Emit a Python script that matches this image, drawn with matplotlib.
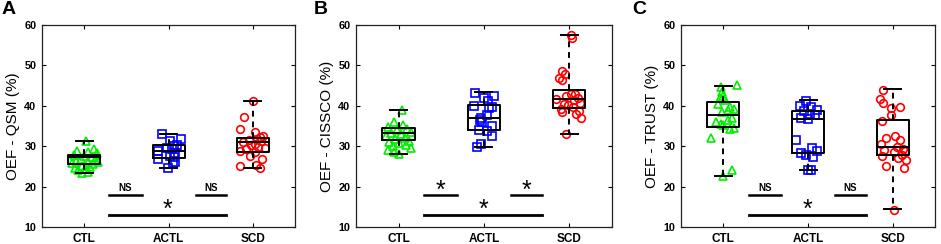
import matplotlib
matplotlib.use("Agg")
import matplotlib.pyplot as plt

plt.rcParams['font.family'] = ['Liberation Sans', 'DejaVu Sans']

groups = ["CTL", "ACTL", "SCD"]
panel_letters = ["A", "B", "C"]
ylabels = ["OEF - QSM (%)", "OEF - CISSCO (%)", "OEF - TRUST (%)"]
sig_labels = [["NS", "NS", "*"], ["*", "*", "*"], ["NS", "NS", "*"]]

# box stats per panel, per group: (whislo, q1, med, q3, whishi)
stats_A = [(23.4, 25.6, 27.3, 27.8, 31.3), (24.7, 27.0, 28.7, 30.3, 32.9), (24.7, 28.6, 31.1, 32.1, 41.3)]
stats_B = [(28.0, 31.5, 33.3, 34.6, 38.9), (29.9, 34.1, 36.9, 40.1, 43.3), (33.1, 39.5, 41.6, 43.9, 57.6)]
stats_C = [(22.7, 34.8, 37.7, 40.9, 44.9), (24.1, 28.2, 36.7, 38.8, 41.4), (14.4, 27.8, 29.9, 36.6, 44.1)]

# points: values and horizontal jitter offsets
A_ctl_y = [31.2, 29.3, 28.8, 28.5, 28.2, 27.8, 27.5, 27.2, 26.9, 26.6, 26.4, 26.1, 25.8, 25.5, 25.2, 24.9, 24.6, 24.3, 24.0, 23.7, 23.4, 26.0]
A_ctl_dx = [0.02, 0.12, -0.08, 0.05, 0.15, -0.12, 0.00, 0.09, -0.04, 0.13, -0.10, 0.04, -0.14, 0.10, -0.02, 0.07, -0.11, 0.01, -0.07, 0.05, -0.02, 0.16]
A_actl_y = [33.0, 31.7, 31.2, 30.3, 30.0, 29.6, 29.4, 28.8, 28.3, 27.5, 27.2, 26.8, 26.0, 25.8, 24.5]
A_actl_dx = [-0.08, 0.15, 0.02, 0.10, 0.06, -0.02, 0.04, -0.12, 0.08, 0.02, 0.07, -0.12, 0.08, 0.05, -0.01]
A_scd_y = [41.2, 37.1, 34.2, 33.5, 32.6, 32.2, 31.9, 31.5, 31.3, 31.0, 30.6, 30.2, 29.8, 29.5, 29.2, 28.8, 28.5, 27.6, 26.8, 25.4, 25.0, 24.7]
A_scd_dx = [0.00, -0.10, -0.15, 0.02, 0.12, 0.08, 0.05, -0.05, 0.10, -0.12, 0.03, -0.02, 0.06, 0.14, -0.08, -0.15, 0.02, -0.03, 0.11, 0.04, -0.15, 0.08]

B_ctl_y = [39.0, 36.0, 35.2, 34.8, 34.3, 33.9, 33.5, 33.2, 32.9, 32.5, 32.1, 31.8, 31.4, 31.0, 30.7, 30.4, 30.0, 29.5, 29.0, 28.5, 28.0]
B_ctl_dx = [0.04, -0.06, 0.05, -0.12, 0.10, -0.02, 0.14, -0.09, 0.03, -0.15, 0.08, -0.04, 0.12, -0.11, 0.00, 0.09, -0.07, 0.15, -0.12, -0.05, 0.00]
B_actl_y = [43.2, 42.5, 42.0, 41.3, 40.0, 39.6, 39.4, 37.6, 36.9, 36.5, 36.1, 35.0, 34.0, 33.8, 32.5, 30.5, 29.7]
B_actl_dx = [-0.10, 0.12, 0.00, 0.05, -0.12, 0.10, 0.06, 0.03, -0.03, -0.05, -0.02, 0.10, -0.06, 0.03, 0.10, -0.03, -0.08]
B_scd_y = [57.5, 56.8, 48.5, 47.8, 46.8, 46.3, 43.0, 42.8, 42.5, 42.0, 41.8, 41.5, 40.8, 40.5, 40.2, 39.8, 39.2, 38.8, 38.5, 38.0, 37.0, 33.0]
B_scd_dx = [0.02, 0.03, -0.08, -0.05, -0.12, -0.09, 0.07, 0.02, -0.04, 0.10, -0.15, 0.05, 0.13, -0.06, -0.02, 0.04, -0.10, 0.11, -0.08, 0.08, 0.14, -0.04]

C_ctl_y = [45.2, 44.6, 43.5, 42.5, 42.0, 41.5, 40.5, 39.8, 39.2, 38.9, 38.5, 37.0, 36.5, 36.0, 35.6, 35.2, 34.6, 34.2, 32.0, 24.0, 22.6]
C_ctl_dx = [0.16, -0.03, -0.02, 0.00, -0.04, 0.02, -0.06, 0.08, 0.12, 0.05, -0.02, 0.10, 0.06, -0.09, -0.03, 0.00, 0.12, 0.08, -0.15, 0.10, 0.00]
C_actl_y = [41.3, 40.0, 39.6, 39.0, 38.8, 38.0, 37.6, 37.0, 36.8, 31.6, 29.6, 28.9, 28.4, 27.8, 27.4, 24.2, 24.0]
C_actl_dx = [-0.02, -0.10, 0.04, 0.10, -0.05, 0.02, 0.08, -0.08, 0.00, -0.14, 0.05, 0.10, -0.08, -0.02, 0.06, 0.00, 0.04]
C_scd_y = [44.0, 41.7, 40.8, 39.8, 39.4, 37.6, 36.2, 32.5, 32.0, 31.5, 30.5, 29.8, 29.4, 29.0, 28.7, 28.5, 27.9, 27.5, 27.0, 26.5, 25.2, 24.5, 14.2]
C_scd_dx = [-0.12, -0.15, -0.12, 0.08, -0.02, -0.02, -0.13, 0.03, -0.08, 0.08, -0.14, 0.05, 0.12, -0.10, 0.15, 0.02, 0.11, -0.13, 0.06, 0.16, -0.08, 0.13, 0.01]

panels = [
    (stats_A, [(A_ctl_y, A_ctl_dx), (A_actl_y, A_actl_dx), (A_scd_y, A_scd_dx)]),
    (stats_B, [(B_ctl_y, B_ctl_dx), (B_actl_y, B_actl_dx), (B_scd_y, B_scd_dx)]),
    (stats_C, [(C_ctl_y, C_ctl_dx), (C_actl_y, C_actl_dx), (C_scd_y, C_scd_dx)]),
]

colors = ["#00ee00", "#0000ff", "#ff0000"]
markers = ["^", "s", "o"]

fig = plt.figure(figsize=(9.41, 2.44), dpi=100)
lefts = [0.0446, 0.3783, 0.7237]
widths = [0.269, 0.272, 0.270]
letter_x = [0.002, 0.333, 0.672]

for p, (stats, pts) in enumerate(panels):
    ax = fig.add_axes([lefts[p], 0.0697, widths[p], 0.828])
    positions = [1, 2, 3]
    for g in range(3):
        yv, dx = pts[g]
        xs = [positions[g] + d for d in dx]
        ax.plot(xs, yv, linestyle='none', marker=markers[g], markerfacecolor='none',
                markeredgecolor=colors[g], markersize=5.5, markeredgewidth=1.2, zorder=2)
    bstats = []
    for g in range(3):
        lo, q1, med, q3, hi = stats[g]
        bstats.append(dict(whislo=lo, q1=q1, med=med, q3=q3, whishi=hi, fliers=[], label=groups[g]))
    ax.bxp(bstats, positions=positions, widths=0.38, showfliers=False, patch_artist=False,
           boxprops=dict(color='black', linewidth=1.4),
           medianprops=dict(color='black', linewidth=1.4),
           whiskerprops=dict(color='black', linewidth=1.4, linestyle=(0, (3, 2.5))),
           capprops=dict(color='black', linewidth=1.4), capwidths=0.2, manage_ticks=False)
    ax.plot([1.3, 1.68], [17.8, 17.8], color='black', linewidth=1.8)
    ax.plot([2.32, 2.68], [17.8, 17.8], color='black', linewidth=1.8)
    ax.plot([1.3, 2.68], [12.9, 12.9], color='black', linewidth=2.0)
    s1, s2, s3 = sig_labels[p]
    for xc, lab in [(1.49, s1), (2.5, s2)]:
        if lab == "NS":
            ax.text(xc, 18.4, lab, ha='center', va='bottom', fontsize=7, fontweight='bold')
        else:
            ax.text(xc, 16.0, lab, ha='center', va='bottom', fontsize=18)
    ax.text(1.99, 11.3, s3, ha='center', va='bottom', fontsize=18)

    ax.set_xlim(0.5, 3.5)
    ax.set_ylim(10, 60)
    ax.set_xticks(positions)
    ax.set_xticklabels(groups)
    ax.set_yticks([10, 20, 30, 40, 50, 60])
    ax.tick_params(direction='in', top=True, right=True, length=3, width=0.8, pad=4)
    ax.tick_params(axis='x', labelsize=8.5)
    ax.tick_params(axis='y', labelsize=7.8)
    for lbl in ax.get_xticklabels() + ax.get_yticklabels():
        lbl.set_fontweight('bold')
    for sp in ax.spines.values():
        sp.set_linewidth(0.9)
        sp.set_color('#222222')
    ax.set_ylabel(ylabels[p], fontsize=11, labelpad=3)
    fig.text(letter_x[p], 0.995, panel_letters[p], fontsize=14, fontweight='bold', va='top', ha='left')

fig.savefig("out.png", dpi=100)
